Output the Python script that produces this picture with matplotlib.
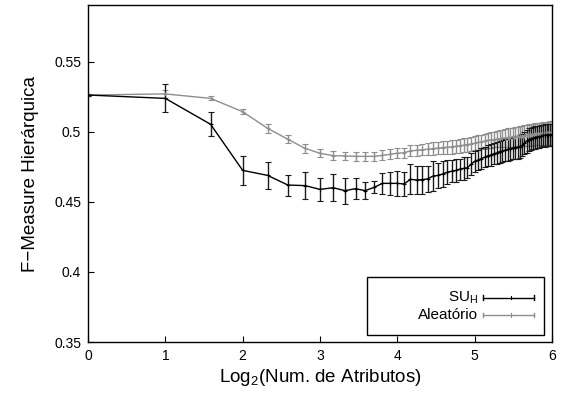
import numpy as np
import matplotlib.pyplot as plt

plt.rcParams['font.family'] = ['Liberation Sans', 'DejaVu Sans']
plt.rcParams['mathtext.fontset'] = 'custom'
plt.rcParams['mathtext.rm'] = 'Liberation Sans'
plt.rcParams['mathtext.it'] = 'Liberation Sans'
plt.rcParams['mathtext.default'] = 'regular'

# number of attributes 1..64, plotted on log2 scale
num_attr = np.arange(1, 65)

su_h = [0.5264, 0.5240, 0.5055, 0.4726, 0.4690, 0.4621, 0.4617, 0.4590,
        0.4602, 0.4581, 0.4595, 0.4581, 0.4605, 0.4633, 0.4633, 0.4633,
        0.4629, 0.4662, 0.4657, 0.4660, 0.4665, 0.4685, 0.4690, 0.4700,
        0.4712, 0.4720, 0.4725, 0.4735, 0.4740, 0.4745, 0.4770, 0.4790,
        0.4800, 0.4810, 0.4820, 0.4830, 0.4835, 0.4845, 0.4850, 0.4860,
        0.4865, 0.4870, 0.4875, 0.4880, 0.4885, 0.4888, 0.4890, 0.4895,
        0.4905, 0.4920, 0.4935, 0.4945, 0.4950, 0.4955, 0.4960, 0.4965,
        0.4965, 0.4970, 0.4975, 0.4975, 0.4978, 0.4980, 0.4980, 0.4980]
su_h_err = [0.0005, 0.0100, 0.0087, 0.0106, 0.0098, 0.0075, 0.0099, 0.0082,
            0.0098, 0.0093, 0.0075, 0.0063, 0.0044, 0.0074, 0.0081, 0.0087,
            0.0085, 0.0107, 0.0100, 0.0100, 0.0095, 0.0105, 0.0090, 0.0095,
            0.0085, 0.0080, 0.0085, 0.0075, 0.0080, 0.0075, 0.0080, 0.0075,
            0.0070, 0.0075, 0.0070, 0.0075, 0.0080, 0.0075, 0.0080, 0.0078,
            0.0080, 0.0078, 0.0082, 0.0080, 0.0078, 0.0080, 0.0082, 0.0080,
            0.0078, 0.0080, 0.0082, 0.0080, 0.0078, 0.0080, 0.0080, 0.0078,
            0.0080, 0.0080, 0.0078, 0.0080, 0.0080, 0.0078, 0.0080, 0.0080]

aleatorio = [0.5264, 0.5272, 0.5240, 0.5145, 0.5026, 0.4948, 0.4883, 0.4848,
             0.4831, 0.4829, 0.4826, 0.4826, 0.4826, 0.4833, 0.4841, 0.4848,
             0.4852, 0.4865, 0.4869, 0.4873, 0.4877, 0.4881, 0.4885, 0.4888,
             0.4891, 0.4894, 0.4898, 0.4902, 0.4906, 0.4910, 0.4915, 0.4920,
             0.4925, 0.4930, 0.4935, 0.4940, 0.4943, 0.4946, 0.4949, 0.4952,
             0.4955, 0.4957, 0.4960, 0.4962, 0.4964, 0.4966, 0.4968, 0.4970,
             0.4972, 0.4974, 0.4976, 0.4978, 0.4980, 0.4981, 0.4983, 0.4984,
             0.4986, 0.4987, 0.4988, 0.4989, 0.4990, 0.4991, 0.4992, 0.4993]
aleatorio_err = [0.0005, 0.0030, 0.0015, 0.0020, 0.0030, 0.0030, 0.0030, 0.0030,
                 0.0030, 0.0030, 0.0030, 0.0030, 0.0030, 0.0035, 0.0035, 0.0035,
                 0.0035, 0.0040, 0.0040, 0.0040, 0.0042, 0.0044, 0.0045, 0.0046,
                 0.0047, 0.0048, 0.0048, 0.0049, 0.0050, 0.0050, 0.0050, 0.0051,
                 0.0052, 0.0052, 0.0053, 0.0053, 0.0055, 0.0056, 0.0058, 0.0060,
                 0.0062, 0.0063, 0.0065, 0.0066, 0.0068, 0.0070, 0.0071, 0.0072,
                 0.0073, 0.0074, 0.0075, 0.0076, 0.0077, 0.0078, 0.0078, 0.0079,
                 0.0080, 0.0080, 0.0081, 0.0081, 0.0082, 0.0082, 0.0083, 0.0083]

x = np.log2(num_attr)
black = '#000000'
gray = '#8e8e8e'

fig = plt.figure(figsize=(5.61, 3.94), dpi=100)
ax = fig.add_axes([88 / 561, 52 / 394, 464 / 561, 337 / 394])

ax.errorbar(x, aleatorio, yerr=aleatorio_err, color=gray, lw=1, elinewidth=1.0,
            capsize=2.2, capthick=0.9, marker='+', ms=3, mew=0.8)
ax.errorbar(x, su_h, yerr=su_h_err, color=black, ecolor='#1a1a1a', lw=1,
            elinewidth=1.0, capsize=2.2, capthick=0.9, marker='+', ms=3, mew=0.8)

ax.set_xlim(0, 6)
ax.set_ylim(0.35, 0.5907)
ax.set_xticks(range(7))
ax.set_yticks([0.35, 0.4, 0.45, 0.5, 0.55])
ax.set_yticklabels(['0.35', '0.4', '0.45', '0.5', '0.55'])
ax.tick_params(direction='in', length=4, width=0.8, labelsize=10, pad=5)
for s in ax.spines.values():
    s.set_linewidth(1)

ax.set_xlabel('Log$_2$(Num. de Atributos)', fontsize=13.5, labelpad=3)
ax.set_ylabel('F\u2212Measure Hierárquica', fontsize=13.5, labelpad=11)

# gnuplot-style legend box
ax.add_patch(plt.Rectangle((0.601, 0.02), 0.381, 0.173, transform=ax.transAxes,
                           fill=False, lw=1, ec='black'))
for yy, lab, c in [(0.132, 'SU$_H$', black), (0.080, 'Aleatório', gray)]:
    ax.text(0.841, yy, lab, transform=ax.transAxes, ha='right', va='center',
            fontsize=11)
    ax.plot([0.851, 0.961], [yy, yy], color=c, lw=1, transform=ax.transAxes)
    ax.plot([0.851, 0.851], [yy - 0.007, yy + 0.007], color=c, lw=1,
            transform=ax.transAxes)
    ax.plot([0.961, 0.961], [yy - 0.007, yy + 0.007], color=c, lw=1,
            transform=ax.transAxes)
    ax.plot([0.911, 0.911], [yy - 0.005, yy + 0.005], color=c, lw=0.8,
            transform=ax.transAxes)

fig.savefig('out.png', dpi=100)
